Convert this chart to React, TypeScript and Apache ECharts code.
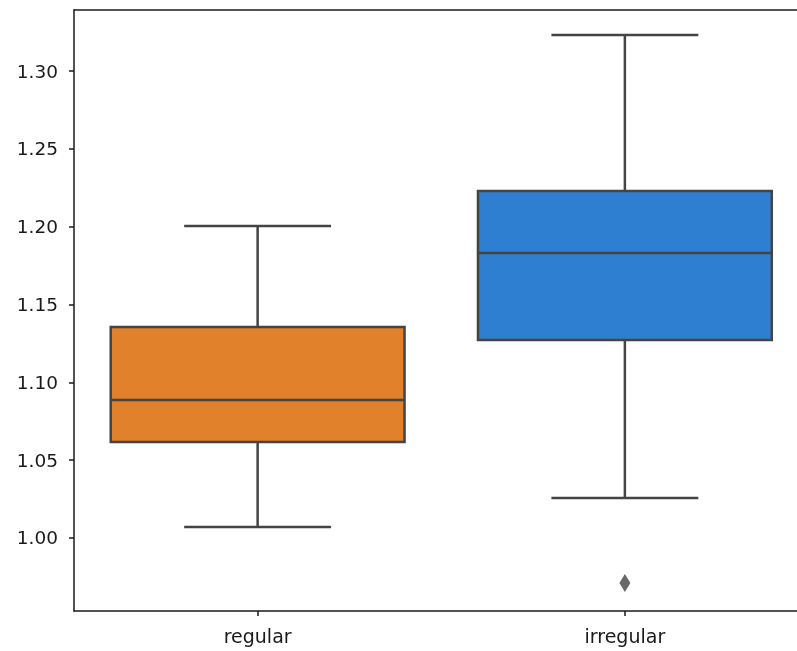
import React, { useEffect, useRef } from "react";
import * as echarts from "echarts";

const categories = ["regular", "irregular"];
const whiskerLow = [1.0071, 1.0257];
const q1Values = [1.0617, 1.1272];
const medianValues = [1.0887, 1.1831];
const q3Values = [1.1355, 1.2229];
const whiskerHigh = [1.2004, 1.3231];
const boxColors = ["#e1812c", "#2e7fd2"];
const outliers: [number, number][] = [[1, 0.9711]];
const yTicks = [1.0, 1.05, 1.1, 1.15, 1.2, 1.25, 1.3];
const yMin = 0.9531;
const yMax = 1.3392;

const EDGE = "#444444";
const SPINE = "#1a1a1a";
const FONT = "DejaVu Sans";

export default function App() {
  const ref = useRef<HTMLDivElement>(null);
  useEffect(() => {
    if (!ref.current) return;
    const chart = echarts.init(ref.current, null, { renderer: "svg" });
    const boxData = categories.map((_, i) => [
      i,
      whiskerLow[i],
      q1Values[i],
      medianValues[i],
      q3Values[i],
      whiskerHigh[i],
    ]);
    const spineLine = { show: true, lineStyle: { color: SPINE, width: 1.5 } };
    chart.setOption({
      animation: false,
      grid: {
        left: 74,
        top: 10,
        right: 91.5,
        bottom: 40,
        show: false,
      },
      xAxis: [
        {
          type: "category",
          data: categories,
          boundaryGap: true,
          position: "bottom",
          axisLine: spineLine,
          axisTick: { show: true, alignWithLabel: true, length: 5, lineStyle: { color: SPINE, width: 1.5 } },
          axisLabel: { color: SPINE, fontSize: 19, fontFamily: FONT, margin: 15 },
          splitLine: { show: false },
        },
        {
          type: "category",
          data: categories,
          boundaryGap: true,
          position: "top",
          axisLine: spineLine,
          axisTick: { show: false },
          axisLabel: { show: false },
          splitLine: { show: false },
        },
      ],
      yAxis: {
        type: "value",
        min: yMin,
        max: yMax,
        axisLine: spineLine,
        axisTick: { show: true, length: 5, customValues: yTicks, lineStyle: { color: SPINE, width: 1.5 } },
        axisLabel: {
          color: SPINE,
          fontSize: 18.5,
          fontFamily: FONT,
          margin: 16,
          customValues: yTicks,
          formatter: (v: number) => v.toFixed(2),
        },
        splitLine: { show: false },
      },
      series: [
        {
          type: "custom",
          data: boxData,
          xAxisIndex: 0,
          encode: { x: 0, y: [1, 2, 3, 4, 5] },
          renderItem: (params: any, api: any) => {
            const i = api.value(0);
            const band = api.size([1, 0])[0];
            const bh = band * 0.4;
            const ch = band * 0.2;
            const pLow = api.coord([i, api.value(1)]);
            const pQ1 = api.coord([i, api.value(2)]);
            const pMed = api.coord([i, api.value(3)]);
            const pQ3 = api.coord([i, api.value(4)]);
            const pHigh = api.coord([i, api.value(5)]);
            const cx = pQ1[0];
            const ls = { stroke: EDGE, lineWidth: 2.5 };
            return {
              type: "group",
              children: [
                { type: "line", shape: { x1: cx, y1: pQ3[1], x2: cx, y2: pHigh[1] }, style: ls },
                { type: "line", shape: { x1: cx, y1: pQ1[1], x2: cx, y2: pLow[1] }, style: ls },
                { type: "line", shape: { x1: cx - ch, y1: pHigh[1], x2: cx + ch, y2: pHigh[1] }, style: ls },
                { type: "line", shape: { x1: cx - ch, y1: pLow[1], x2: cx + ch, y2: pLow[1] }, style: ls },
                {
                  type: "rect",
                  shape: { x: cx - bh, y: pQ3[1], width: 2 * bh, height: pQ1[1] - pQ3[1] },
                  style: { fill: boxColors[i], stroke: EDGE, lineWidth: 2.5 },
                },
                { type: "line", shape: { x1: cx - bh, y1: pMed[1], x2: cx + bh, y2: pMed[1] }, style: ls },
              ],
            };
          },
          z: 2,
        },
        {
          type: "scatter",
          data: outliers,
          xAxisIndex: 0,
          symbol: "diamond",
          symbolSize: [11, 18],
          itemStyle: { color: EDGE },
          z: 3,
        },
      ],
    });
    return () => chart.dispose();
  }, []);
  return (
    <div style={{ position: "fixed", left: 0, top: 0, width: 797, height: 651, overflow: "hidden" }}>
      <div ref={ref} style={{ width: 900, height: 651 }} />
    </div>
  );
}
